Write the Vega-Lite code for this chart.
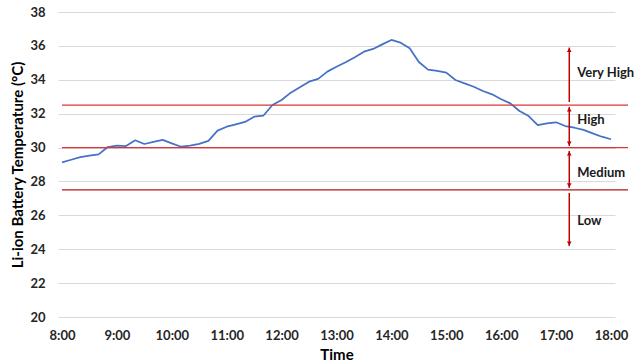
{
  "$schema": "https://vega.github.io/schema/vega-lite/v6.json",
  "width": 557,
  "height": 305,
  "autosize": {"type": "none"},
  "padding": {"left": 58, "top": 12, "right": 21, "bottom": 47},
  "background": "white",
  "config": {
    "font": "Lato",
    "view": {"stroke": null},
    "axis": {
      "labelFont": "Lato",
      "labelFontWeight": "bold",
      "labelFontSize": 13,
      "labelColor": "#262626",
      "titleFont": "Lato",
      "titleFontWeight": "bold",
      "titleFontSize": 15,
      "titleColor": "#000000",
      "domain": false,
      "ticks": false
    }
  },
  "datasets": {
    "temps": [
      {"k": 0, "temp": 29.13}, {"k": 1, "temp": 29.28}, {"k": 2, "temp": 29.43},
      {"k": 3, "temp": 29.52}, {"k": 4, "temp": 29.6}, {"k": 5, "temp": 30.03},
      {"k": 6, "temp": 30.11}, {"k": 7, "temp": 30.09}, {"k": 8, "temp": 30.43},
      {"k": 9, "temp": 30.21}, {"k": 10, "temp": 30.33}, {"k": 11, "temp": 30.45},
      {"k": 12, "temp": 30.25}, {"k": 13, "temp": 30.05}, {"k": 14, "temp": 30.12},
      {"k": 15, "temp": 30.22}, {"k": 16, "temp": 30.39}, {"k": 17, "temp": 31.0},
      {"k": 18, "temp": 31.23}, {"k": 19, "temp": 31.37}, {"k": 20, "temp": 31.51},
      {"k": 21, "temp": 31.82}, {"k": 22, "temp": 31.88}, {"k": 23, "temp": 32.51},
      {"k": 24, "temp": 32.81}, {"k": 25, "temp": 33.24}, {"k": 26, "temp": 33.56},
      {"k": 27, "temp": 33.89}, {"k": 28, "temp": 34.05}, {"k": 29, "temp": 34.48},
      {"k": 30, "temp": 34.77}, {"k": 31, "temp": 35.03}, {"k": 32, "temp": 35.33},
      {"k": 33, "temp": 35.66}, {"k": 34, "temp": 35.82}, {"k": 35, "temp": 36.09},
      {"k": 36, "temp": 36.35}, {"k": 37, "temp": 36.19}, {"k": 38, "temp": 35.86},
      {"k": 39, "temp": 35.05}, {"k": 40, "temp": 34.6}, {"k": 41, "temp": 34.52},
      {"k": 42, "temp": 34.42}, {"k": 43, "temp": 33.99}, {"k": 44, "temp": 33.79},
      {"k": 45, "temp": 33.59}, {"k": 46, "temp": 33.34}, {"k": 47, "temp": 33.14},
      {"k": 48, "temp": 32.85}, {"k": 49, "temp": 32.61}, {"k": 50, "temp": 32.16},
      {"k": 51, "temp": 31.86}, {"k": 52, "temp": 31.33}, {"k": 53, "temp": 31.43},
      {"k": 54, "temp": 31.49}, {"k": 55, "temp": 31.27}, {"k": 56, "temp": 31.17},
      {"k": 57, "temp": 31.04}, {"k": 58, "temp": 30.84}, {"k": 59, "temp": 30.64},
      {"k": 60, "temp": 30.49}
    ],
    "thresholds": [
      {"level": 32.5, "start": 8, "end": 18.31, "tone": "light"},
      {"level": 30.0, "start": 8, "end": 18.31, "tone": "light"},
      {"level": 27.5, "start": 8, "end": 18.31, "tone": "dark"}
    ],
    "bands": [
      {"band": "Very High", "at": 17.24, "lo": 32.69, "hi": 35.9, "labelY": 34.38},
      {"band": "High", "at": 17.24, "lo": 30.09, "hi": 32.4, "labelY": 31.63},
      {"band": "Medium", "at": 17.24, "lo": 27.62, "hi": 29.8, "labelY": 28.52},
      {"band": "Low", "at": 17.24, "lo": 24.19, "hi": 27.32, "labelY": 25.69}
    ],
    "heads": [
      {"at": 17.24, "tip": 35.9, "dir": "up"},
      {"at": 17.24, "tip": 32.4, "dir": "up"},
      {"at": 17.24, "tip": 30.09, "dir": "down"},
      {"at": 17.24, "tip": 29.8, "dir": "up"},
      {"at": 17.24, "tip": 27.62, "dir": "down"},
      {"at": 17.24, "tip": 24.19, "dir": "down"}
    ]
  },
  "layer": [
    {
      "data": {"name": "temps"},
      "transform": [{"calculate": "8 + datum.k / 6", "as": "hour"}],
      "mark": {"type": "line", "color": "#4472c4", "strokeWidth": 1.75, "strokeJoin": "round"},
      "encoding": {
        "x": {
          "field": "hour",
          "type": "quantitative",
          "scale": {"domain": [7.927, 18.073], "nice": false, "zero": false},
          "axis": {
            "values": [8, 9, 10, 11, 12, 13, 14, 15, 16, 17, 18],
            "labelExpr": "datum.value + ':00'",
            "grid": false,
            "labelPadding": 12,
            "title": "Time",
            "titlePadding": 5
          }
        },
        "y": {
          "field": "temp",
          "type": "quantitative",
          "scale": {"domain": [20, 38], "nice": false, "zero": false},
          "axis": {
            "values": [20, 22, 24, 26, 28, 30, 32, 34, 36, 38],
            "grid": true,
            "gridColor": "#d9d9d9",
            "gridWidth": 1,
            "labelPadding": 13,
            "title": "Li-ion Battery Temperature (°C)",
            "titlePadding": 4
          }
        }
      }
    },
    {
      "data": {"name": "thresholds"},
      "mark": {"type": "rule", "strokeWidth": 1.3},
      "encoding": {
        "x": {
          "field": "start", "type": "quantitative",
          "axis": {"values": [8, 9, 10, 11, 12, 13, 14, 15, 16, 17, 18], "labelExpr": "datum.value + ':00'", "grid": false, "labelPadding": 12, "title": "Time", "titlePadding": 5}
        },
        "x2": {"field": "end"},
        "y": {
          "field": "level", "type": "quantitative",
          "axis": {"values": [20, 22, 24, 26, 28, 30, 32, 34, 36, 38], "grid": true, "gridColor": "#d9d9d9", "gridWidth": 1, "labelPadding": 13, "title": "Li-ion Battery Temperature (°C)", "titlePadding": 4}
        },
        "color": {
          "field": "tone",
          "type": "nominal",
          "scale": {"domain": ["light", "dark"], "range": ["#dc3535", "#b01818"]},
          "legend": null
        }
      }
    },
    {
      "data": {"name": "bands"},
      "mark": {"type": "rule", "color": "#c00000", "strokeWidth": 1.5},
      "encoding": {
        "x": {
          "field": "at", "type": "quantitative",
          "axis": {"values": [8, 9, 10, 11, 12, 13, 14, 15, 16, 17, 18], "labelExpr": "datum.value + ':00'", "grid": false, "labelPadding": 12, "title": "Time", "titlePadding": 5}
        },
        "y": {
          "field": "lo", "type": "quantitative",
          "axis": {"values": [20, 22, 24, 26, 28, 30, 32, 34, 36, 38], "grid": true, "gridColor": "#d9d9d9", "gridWidth": 1, "labelPadding": 13, "title": "Li-ion Battery Temperature (°C)", "titlePadding": 4}
        },
        "y2": {"field": "hi"}
      }
    },
    {
      "data": {"name": "heads"},
      "transform": [{"filter": "datum.dir === 'up'"}],
      "mark": {"type": "point", "shape": "triangle-up", "filled": true, "color": "#c00000", "size": 22, "opacity": 1, "yOffset": 2.5},
      "encoding": {
        "x": {
          "field": "at", "type": "quantitative",
          "axis": {"values": [8, 9, 10, 11, 12, 13, 14, 15, 16, 17, 18], "labelExpr": "datum.value + ':00'", "grid": false, "labelPadding": 12, "title": "Time", "titlePadding": 5}
        },
        "y": {
          "field": "tip", "type": "quantitative",
          "axis": {"values": [20, 22, 24, 26, 28, 30, 32, 34, 36, 38], "grid": true, "gridColor": "#d9d9d9", "gridWidth": 1, "labelPadding": 13, "title": "Li-ion Battery Temperature (°C)", "titlePadding": 4}
        }
      }
    },
    {
      "data": {"name": "heads"},
      "transform": [{"filter": "datum.dir === 'down'"}],
      "mark": {"type": "point", "shape": "triangle-down", "filled": true, "color": "#c00000", "size": 22, "opacity": 1, "yOffset": -2.5},
      "encoding": {
        "x": {
          "field": "at", "type": "quantitative",
          "axis": {"values": [8, 9, 10, 11, 12, 13, 14, 15, 16, 17, 18], "labelExpr": "datum.value + ':00'", "grid": false, "labelPadding": 12, "title": "Time", "titlePadding": 5}
        },
        "y": {
          "field": "tip", "type": "quantitative",
          "axis": {"values": [20, 22, 24, 26, 28, 30, 32, 34, 36, 38], "grid": true, "gridColor": "#d9d9d9", "gridWidth": 1, "labelPadding": 13, "title": "Li-ion Battery Temperature (°C)", "titlePadding": 4}
        }
      }
    },
    {
      "data": {"name": "bands"},
      "mark": {"type": "text", "align": "left", "baseline": "middle", "dx": 8, "font": "Lato", "fontWeight": "bold", "fontSize": 13, "color": "#1a1a1a"},
      "encoding": {
        "x": {
          "field": "at", "type": "quantitative",
          "axis": {"values": [8, 9, 10, 11, 12, 13, 14, 15, 16, 17, 18], "labelExpr": "datum.value + ':00'", "grid": false, "labelPadding": 12, "title": "Time", "titlePadding": 5}
        },
        "y": {
          "field": "labelY", "type": "quantitative",
          "axis": {"values": [20, 22, 24, 26, 28, 30, 32, 34, 36, 38], "grid": true, "gridColor": "#d9d9d9", "gridWidth": 1, "labelPadding": 13, "title": "Li-ion Battery Temperature (°C)", "titlePadding": 4}
        },
        "text": {"field": "band"}
      }
    }
  ]
}
